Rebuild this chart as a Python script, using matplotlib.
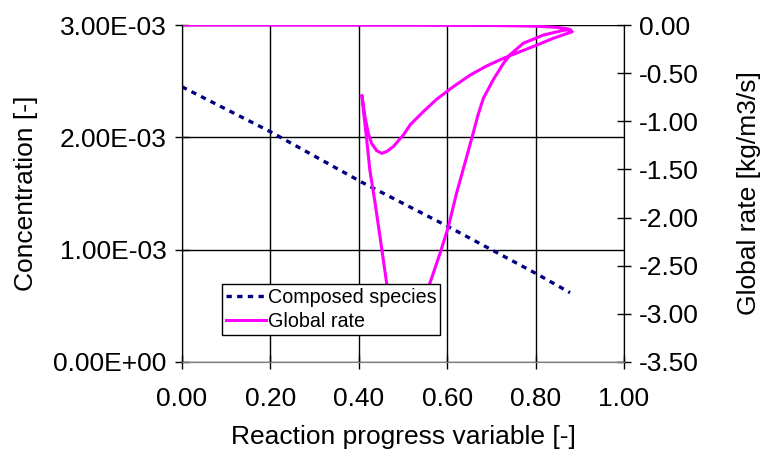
import matplotlib
matplotlib.use('Agg')
import matplotlib.pyplot as plt
from matplotlib.ticker import FuncFormatter, MultipleLocator

plt.rcParams['font.family'] = ['Liberation Sans', 'DejaVu Sans']
plt.rcParams['axes.unicode_minus'] = False

# Composed species (left axis)
progress_species = [0.0, 0.2, 0.407, 0.6, 0.8, 0.878]
concentration = [2.45e-3, 2.05e-3, 1.60e-3, 1.21e-3, 0.79e-3, 0.617e-3]

# Global rate (right axis): top branch, tip, upper loop back to cusp, lower loop up to tip
progress_rate = [0.0, 0.3, 0.5, 0.7, 0.80, 0.85, 0.875, 0.883,
                 0.840, 0.802, 0.765, 0.727, 0.689, 0.652, 0.614, 0.576, 0.546,
                 0.516, 0.501, 0.478, 0.463, 0.452, 0.4405, 0.429, 0.4216, 0.414, 0.407,
                 0.412, 0.418, 0.425, 0.437, 0.448, 0.463, 0.475, 0.49, 0.51, 0.53,
                 0.548, 0.561, 0.584, 0.603, 0.621, 0.644, 0.659, 0.670, 0.682, 0.704,
                 0.727, 0.742, 0.772, 0.818, 0.863, 0.878]
global_rate = [0.0, -0.001, -0.002, -0.005, -0.012, -0.025, -0.042, -0.07,
               -0.138, -0.21, -0.277, -0.346, -0.426, -0.52, -0.64, -0.772, -0.90,
               -1.038, -1.142, -1.263, -1.315, -1.333, -1.305, -1.23, -1.125, -0.952, -0.73,
               -0.95, -1.194, -1.506, -1.852, -2.198, -2.68, -2.88, -2.98, -3.0, -2.95,
               -2.82, -2.68, -2.37, -2.09, -1.75, -1.37, -1.12, -0.93, -0.76, -0.57,
               -0.40, -0.31, -0.19, -0.104, -0.055, -0.05]

fig = plt.figure(figsize=(7.63, 4.53), dpi=100)
ax = fig.add_axes([0.2385, 0.2009, 0.5793, 0.7439])
ax2 = ax.twinx()

l1, = ax.plot(progress_species, concentration, color='#000080', lw=2.4,
              dashes=(1.6, 1.6), label='Composed species')
l2, = ax2.plot(progress_rate, global_rate, color='#FF00FF', lw=2.2,
               label='Global rate', solid_joinstyle='round')

ax.set_xlim(0, 1)
ax.set_ylim(0, 3e-3)
ax2.set_ylim(-3.5, 0)

ax.xaxis.set_major_locator(MultipleLocator(0.2))
ax.yaxis.set_major_locator(MultipleLocator(1e-3))
ax2.yaxis.set_major_locator(MultipleLocator(0.5))
ax.xaxis.set_major_formatter(FuncFormatter(lambda v, p: f'{v:.2f}'))
ax.yaxis.set_major_formatter(FuncFormatter(lambda v, p: f'{v:.2E}'))
ax2.yaxis.set_major_formatter(FuncFormatter(lambda v, p: f'{v:.2f}' if abs(v) > 1e-9 else '0.00'))

ax.grid(True, color='black', lw=1.0)
ax.set_axisbelow(True)

fs = 19
ax.tick_params(axis='both', direction='inout', length=10, width=1, labelsize=fs, pad=6)
ax.tick_params(axis='x', pad=13)
ax2.tick_params(axis='y', direction='inout', length=10, width=1, labelsize=fs, pad=6)

for a in (ax, ax2):
    a.spines['top'].set_visible(False)
    a.spines['left'].set_color('black')
    a.spines['right'].set_color('black')
    a.spines['bottom'].set_color('#808080')

ax.set_xlabel('Reaction progress variable [-]', fontsize=fs, labelpad=10)
ax.set_ylabel('Concentration [-]', fontsize=fs, labelpad=11)
ax2.set_ylabel('Global rate [kg/m3/s]', fontsize=fs, labelpad=27)

leg = ax2.legend(handles=[l1, l2], loc='upper left', bbox_to_anchor=(0.091, 0.2315),
                 fontsize=14.2, frameon=True, fancybox=False, framealpha=1,
                 edgecolor='black', borderpad=0.2, handlelength=2.0,
                 handletextpad=0.1, labelspacing=0.25, borderaxespad=0)
leg.get_frame().set_linewidth(1.0)

fig.savefig('out.png', dpi=100)
